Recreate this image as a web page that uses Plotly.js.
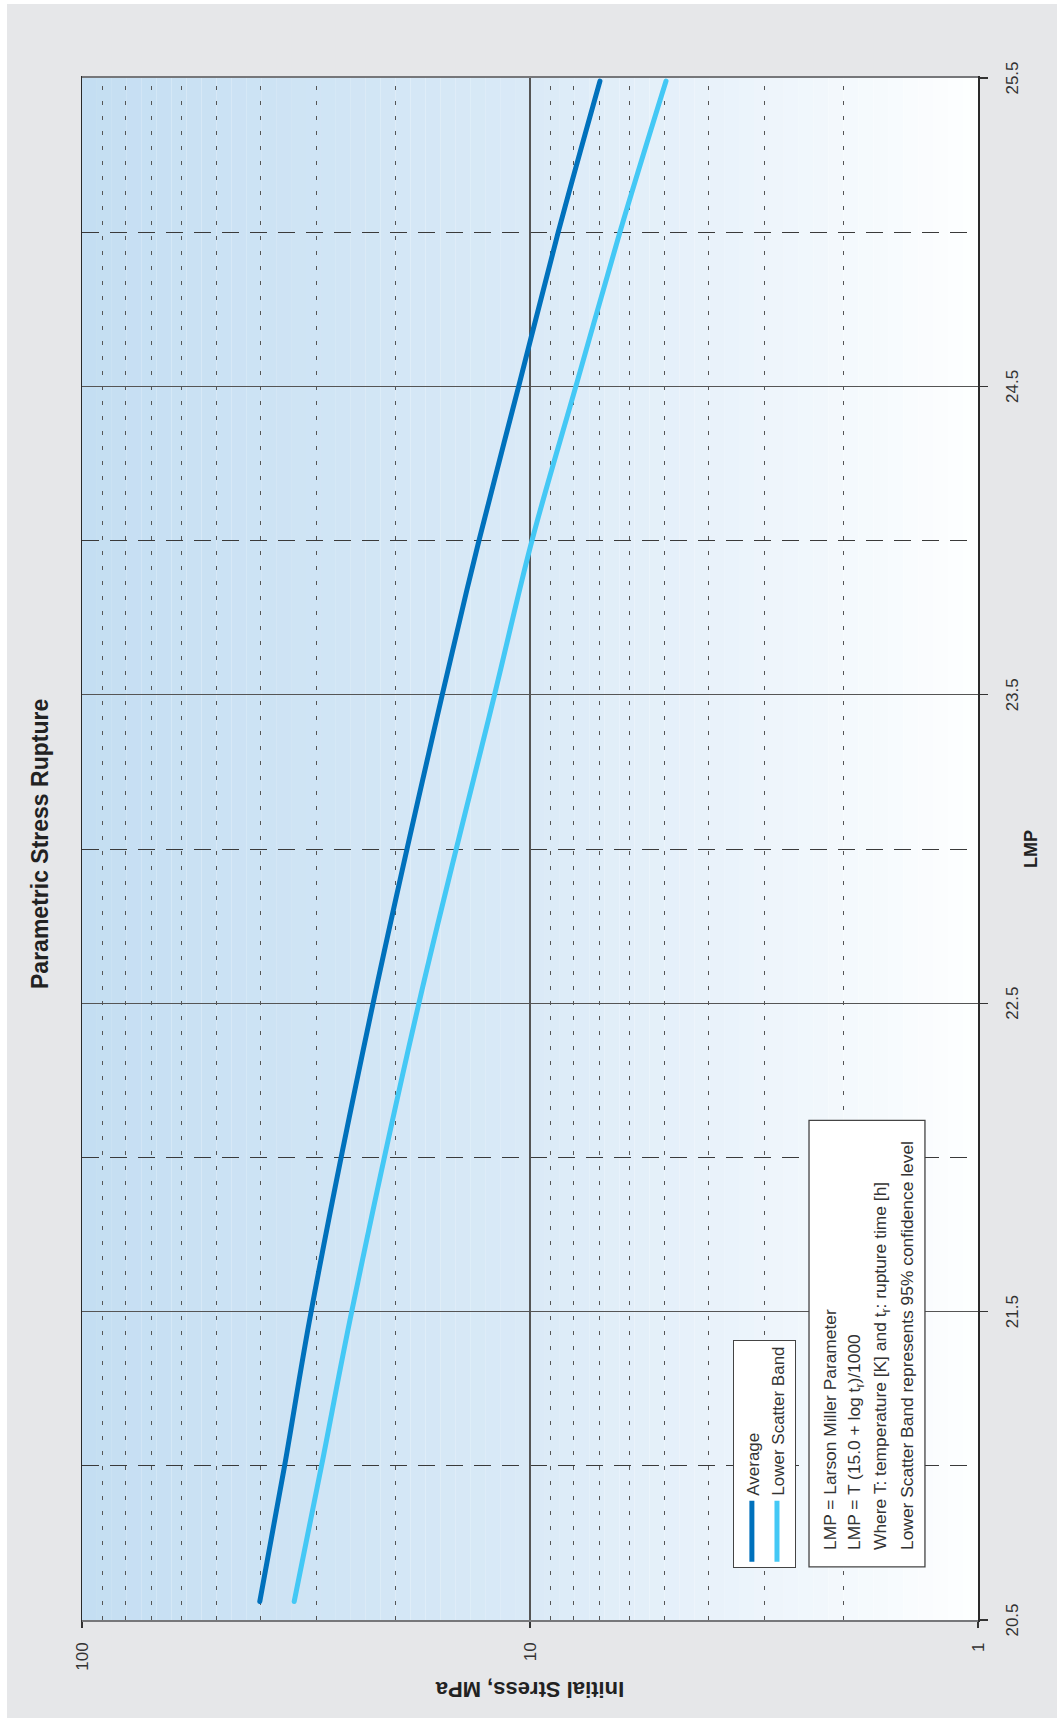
<!DOCTYPE html>
<html>
<head>
<meta charset="utf-8">
<script src="https://cdn.plot.ly/plotly-3.0.1.min.js"></script>
<style>
  html, body { margin: 0; padding: 0; background: #ffffff; overflow: hidden; width: 1057px; height: 1718px; }
  #wrap { position: absolute; left: 0; top: 0; width: 1714px; height: 1050px;
          transform-origin: 0 0; transform: translate(7px, 1718px) rotate(-90deg); }
  #chart { width: 1714px; height: 1050px; }
  .scatterlayer .js-line { stroke-linecap: round; }
</style>
</head>
<body>
<div id="wrap"><div id="chart"></div></div>
<script>
// ---- data ----
const lmp = [20.56, 21.0, 21.5, 22.5, 23.5, 24.0, 24.5, 25.0, 25.49];
const stressAverage = [40.1, 35.3, 30.8, 22.4, 15.7, 13.0, 10.6, 8.65, 6.98];
const stressLowerBand = [33.6, 29.2, 25.0, 17.7, 12.0, 9.9, 7.9, 6.3, 4.97];

const lmpMajorTicks = [20.5, 21.5, 22.5, 23.5, 24.5, 25.5];
const lmpTickLabels = ["20.5", "21.5", "22.5", "23.5", "24.5", "25.5"];
const lmpMinorTicks = [21, 22, 23, 24, 25];
const stressMajorTicks = [1, 10, 100];
const stressTickLabels = ["1", "10", "100"];
const stressMinorTicks = [2, 3, 4, 5, 6, 7, 8, 9, 20, 30, 40, 50, 60, 70, 80, 90];

const seriesNames = ["Average", "Lower Scatter Band"];
const noteLines = [
  "LMP = Larson Miller Parameter",
  "LMP = T (15.0 + log t<sub>r</sub>)/1000",
  "Where T: temperature [K] and t<sub>r</sub>: rupture time [h]",
  "Lower Scatter Band represents 95% confidence level"
];

// ---- styling ----
const FONT = "Liberation Sans, Arial, sans-serif";
const PLOT_H = 896;   // plot area height in px (unrotated)

// background gradient (stress 100 side darker -> stress 1 side white)
const stops = [
  [0.0, [196, 222, 242]],
  [0.5, [218, 234, 247]],
  [0.75, [236, 244, 251]],
  [1.0, [254, 255, 255]]
];
function colorAt(t) {
  for (let i = 0; i < stops.length - 1; i++) {
    const [t0, c0] = stops[i], [t1, c1] = stops[i + 1];
    if (t >= t0 && t <= t1) {
      const f = (t - t0) / (t1 - t0);
      const c = c0.map((v, k) => Math.round(v + (c1[k] - v) * f));
      return `rgb(${c[0]},${c[1]},${c[2]})`;
    }
  }
  return "rgb(255,255,255)";
}
const shapes = [];
const N = 60;
for (let i = 0; i < N; i++) {
  const t = (i + 0.5) / N;
  shapes.push({
    type: "rect", xref: "paper", yref: "paper", layer: "below",
    x0: 0, x1: 1, y0: 1 - (i + 1) / N, y1: 1 - i / N,
    fillcolor: colorAt(t), line: { width: 0 }
  });
}
// note box
shapes.push({
  type: "rect", xref: "paper", yref: "paper", layer: "above",
  x0: 0.0344, x1: 0.324, y0: 0.0592, y1: 0.1886,
  fillcolor: "#ffffff", line: { color: "#444444", width: 1.3 }
});

// note text, one annotation per line (line pitch ~25.7px)
const annotations = noteLines.map((txt, k) => ({
  xref: "paper", yref: "paper", x: 0.0441, y: (148 - 25.7 * k) / PLOT_H,
  xanchor: "left", yanchor: "middle", align: "left", showarrow: false,
  text: txt,
  font: { family: FONT, size: 17.4, color: "#333333" }
}));

const traces = [
  { x: lmp, y: stressAverage, name: seriesNames[0], type: "scatter", mode: "lines",
    line: { color: "#0071bc", width: 5, shape: "spline" } },
  { x: lmp, y: stressLowerBand, name: seriesNames[1], type: "scatter", mode: "lines",
    line: { color: "#44c8f5", width: 5, shape: "spline" } }
];

const layout = {
  width: 1714, height: 1050,
  margin: { l: 98, r: 74, t: 75, b: 79 },
  paper_bgcolor: "#e6e7e9",
  plot_bgcolor: "#ffffff",
  font: { family: FONT, size: 17, color: "#333333" },
  title: {
    text: "Parametric Stress Rupture",
    font: { family: FONT, size: 23, weight: "bold", color: "#222222" },
    xref: "container", x: 0.51, xanchor: "center",
    yref: "container", y: 1 - 33 / 1050, yanchor: "middle"
  },
  xaxis: {
    type: "linear", range: [20.5, 25.5],
    tickmode: "array", tickvals: lmpMajorTicks, ticktext: lmpTickLabels,
    ticks: "outside", ticklen: 8, tickcolor: "#333333", tickwidth: 1.3,
    ticklabelstandoff: 10,
    tickfont: { family: FONT, size: 17, color: "#333333" },
    showgrid: true, gridcolor: "#555555", gridwidth: 1.3,
    minor: { tickmode: "array", tickvals: lmpMinorTicks, ticks: "", showgrid: true,
             gridcolor: "#3a3a3a", gridwidth: 1, griddash: "17px,11px" },
    showline: true, linecolor: "#2a2a2a", linewidth: 1.5, mirror: true,
    zeroline: false,
    title: { text: "LMP", standoff: 3,
             font: { family: FONT, size: 18, weight: "bold", color: "#222222" } }
  },
  yaxis: {
    type: "log", range: [0, 2],
    tickmode: "array", tickvals: stressMajorTicks, ticktext: stressTickLabels,
    ticks: "outside", ticklen: 6, tickcolor: "#333333", tickwidth: 1.3,
    ticklabelstandoff: 11,
    tickfont: { family: FONT, size: 17, color: "#333333" },
    showgrid: true, gridcolor: "#555555", gridwidth: 1.3,
    minor: { tickmode: "array", tickvals: stressMinorTicks, ticks: "", showgrid: true,
             gridcolor: "#555555", gridwidth: 1.2, griddash: "4px,11px" },
    showline: true, linecolor: "#76777a", linewidth: 2, mirror: true,
    zeroline: false,
    title: { text: "Initial Stress, MPa", standoff: 5,
             font: { family: FONT, size: 22, weight: "bold", color: "#222222" } }
  },
  showlegend: true,
  legend: {
    x: 0.0337, y: 0.2734, xanchor: "left", yanchor: "top",
    bgcolor: "#ffffff", bordercolor: "#444444", borderwidth: 1.3,
    font: { family: FONT, size: 17, color: "#333333" },
    tracegroupgap: 0, itemwidth: 61
  },
  shapes: shapes,
  annotations: annotations
};

Plotly.newPlot("chart", traces, layout, { displayModeBar: false, staticPlot: true });
</script>
</body>
</html>
